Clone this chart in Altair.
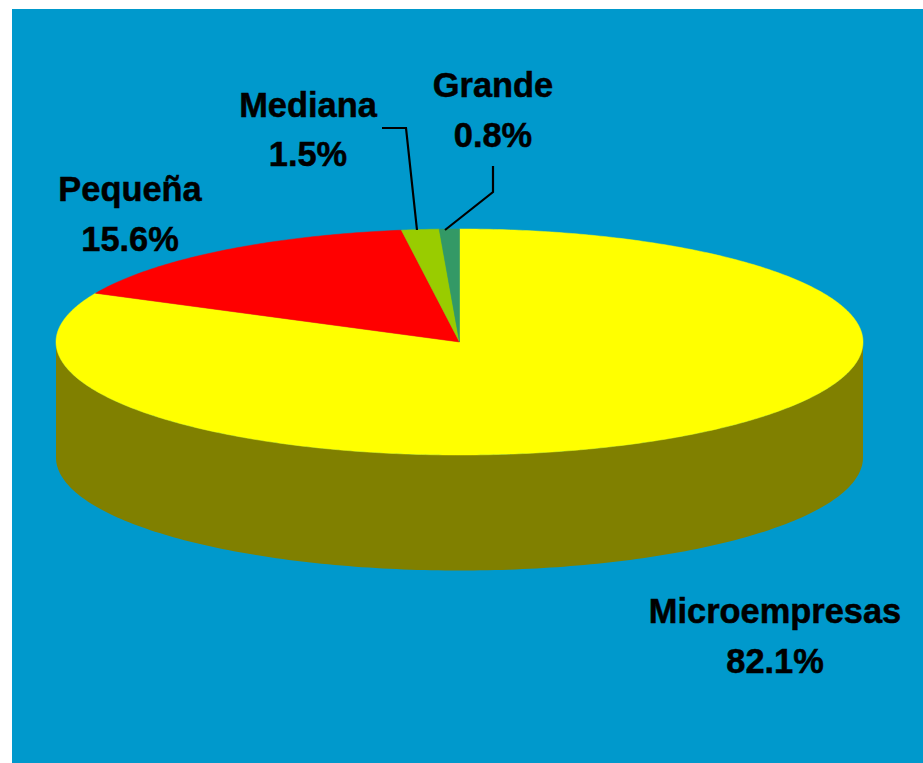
import altair as alt
import numpy as np
import pandas as pd

# Company-size shares, in percent, clockwise from twelve o'clock
sizes = ["Microempresas", "Pequeña", "Mediana", "Grande"]
shares = [82.1, 15.6, 1.5, 0.8]
top_colors = ["#FFFF00", "#FF0000", "#99CC00", "#339966"]

BACKGROUND = "#0099CC"
WALL_COLOR = "#808000"

# Canvas-style coordinates of the tilted pie
CX, CY, RX, RY, DEPTH = 459.5, 342, 403.5, 113, 115.5
LEFT, TOP, RIGHT, BOTTOM = 12, 9, 923, 763

x_scale = alt.Scale(domain=[LEFT, RIGHT], range=[0, RIGHT - LEFT], nice=False, zero=False)
y_scale = alt.Scale(domain=[TOP, BOTTOM], range=[0, BOTTOM - TOP], nice=False, zero=False)
X = alt.X("x:Q", scale=x_scale, axis=None)
Y = alt.Y("y:Q", scale=y_scale, axis=None)


def sector_rows(name, start_share, share):
    """Outline of one squashed pie sector; angles follow the share."""
    angles = np.radians(np.linspace(start_share, start_share + share, max(int(share * 6), 4)) * 3.6)
    xs = [CX] + list(CX + RX * np.sin(angles)) + [CX]
    ys = [CY] + list(CY - RY * np.cos(angles)) + [CY]
    return [{"slice": name, "i": i, "x": a, "y": b} for i, (a, b) in enumerate(zip(xs, ys))]


rows = []
running = 0.0
for name, share in zip(sizes, shares):
    rows += sector_rows(name, running, share)
    running += share
sectors = pd.DataFrame(rows)

# The visible rim only exists on the front half of the ellipse
front = np.radians(np.linspace(270, 90, 181))
wall = pd.DataFrame({
    "x": CX + RX * np.sin(front),
    "y": CY - RY * np.cos(front),
    "y2": CY - RY * np.cos(front) + DEPTH,
})

wall_layer = alt.Chart(wall).mark_area(color=WALL_COLOR).encode(x=X, y=Y, y2="y2:Q")

top_layer = alt.Chart(sectors).mark_line(strokeWidth=0.5, interpolate="linear").encode(
    x=X,
    y=Y,
    order="i:Q",
    detail="slice:N",
    stroke=alt.Stroke("slice:N", scale=alt.Scale(domain=sizes, range=top_colors), legend=None),
    fill=alt.Fill("slice:N", scale=alt.Scale(domain=sizes, range=top_colors), legend=None),
)

# Leader lines for the two thin slices
leaders = pd.DataFrame({
    "slice": ["Mediana"] * 3 + ["Grande"] * 3,
    "i": [0, 1, 2, 0, 1, 2],
    "x": [382, 406, 417, 493, 493, 445],
    "y": [128, 128, 230, 166, 192, 230],
})
leader_layer = alt.Chart(leaders).mark_line(color="black", strokeWidth=2.2).encode(
    x=X, y=Y, order="i:Q", detail="slice:N"
)

# Two-line labels: name above, share below
label_x = [775, 130, 308, 493]
name_y = [623, 201, 117, 97]
value_y = [673, 251, 166, 147]
labels = pd.DataFrame(
    [{"text": n, "x": x, "y": y} for n, x, y in zip(sizes, label_x, name_y)]
    + [{"text": f"{s:.1f}%", "x": x, "y": y} for s, x, y in zip(shares, label_x, value_y)]
)
label_layer = alt.Chart(labels).mark_text(
    font="Liberation Sans", fontWeight="bold", fontSize=34.4, color="black",
    stroke="black", strokeWidth=0.5, align="center", baseline="alphabetic",
).encode(x=X, y=Y, text="text:N")

chart = (
    alt.layer(wall_layer, top_layer, leader_layer, label_layer)
    .resolve_scale(stroke="shared", fill="shared")
    .properties(
        width=RIGHT - LEFT,
        height=BOTTOM - TOP,
        background="white",
        padding={"left": LEFT, "top": TOP, "right": 0, "bottom": 0},
        autosize=alt.AutoSizeParams(type="none"),
    )
    .configure_view(fill=BACKGROUND, stroke=None)
)

chart.save("out.html", embed_options={"renderer": "svg", "actions": False})
